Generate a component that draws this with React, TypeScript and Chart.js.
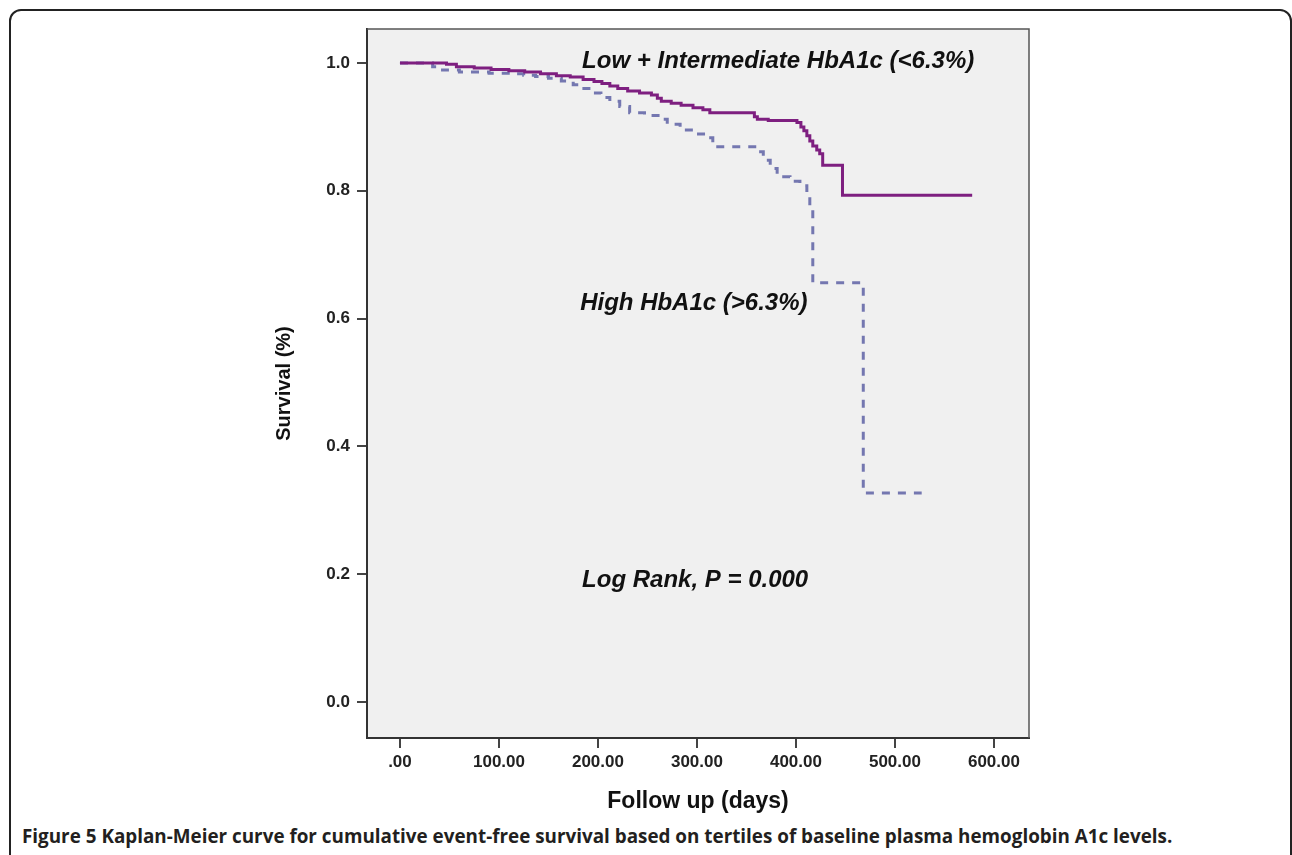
import React, { useEffect, useRef } from "react";
import { Chart, registerables } from "chart.js";

Chart.register(...registerables);

// Low + Intermediate HbA1c (<6.3%) — Kaplan-Meier steps (day, survival after event)
const lowDays = [0, 47, 57, 75, 92, 110, 126, 142, 158, 172, 185, 196, 204, 212, 220, 230, 242, 254, 260, 264, 274, 284, 296, 306, 313, 358, 361, 372, 401, 405, 408, 411, 414, 417, 421, 424, 427, 447, 578];
const lowSurvival = [1.0, 0.998, 0.994, 0.992, 0.99, 0.988, 0.986, 0.983, 0.98, 0.978, 0.974, 0.971, 0.968, 0.964, 0.96, 0.956, 0.953, 0.95, 0.945, 0.94, 0.937, 0.934, 0.93, 0.927, 0.922, 0.916, 0.912, 0.91, 0.907, 0.9, 0.894, 0.886, 0.878, 0.87, 0.864, 0.858, 0.84, 0.793, 0.793];

// High HbA1c (>6.3%)
const highDays = [0, 33, 43, 60, 90, 111, 125, 137, 150, 163, 175, 183, 193, 203, 212, 222, 232, 247, 263, 270, 283, 296, 310, 316, 361, 367, 374, 381, 394, 404, 411, 414, 417, 468, 527];
const highSurvival = [1.0, 0.994, 0.989, 0.986, 0.984, 0.983, 0.981, 0.979, 0.976, 0.972, 0.966, 0.96, 0.953, 0.946, 0.94, 0.932, 0.922, 0.918, 0.912, 0.904, 0.895, 0.889, 0.883, 0.869, 0.861, 0.848, 0.835, 0.822, 0.815, 0.808, 0.792, 0.772, 0.656, 0.327, 0.327];

const xTicks = [0, 100, 200, 300, 400, 500, 600];
const yTicks = [0, 0.2, 0.4, 0.6, 0.8, 1.0];

const annotationTexts = ["Low + Intermediate HbA1c (<6.3%)", "High HbA1c (>6.3%)", "Log Rank, P = 0.000"];
const annotationDays = [184, 182, 184];
const annotationSurvival = [1.003, 0.624, 0.191];

const caption =
  "Kaplan-Meier curve for cumulative event-free survival based on tertiles of baseline plasma hemoglobin A1c levels.";

const plotFramePlugin = {
  id: "plotFrame",
  beforeDraw(chart: any) {
    const { ctx, chartArea: a } = chart;
    ctx.save();
    ctx.fillStyle = "#f0f0f0";
    ctx.fillRect(a.left, a.top, a.right - a.left, a.bottom - a.top);
    ctx.restore();
  },
  afterDraw(chart: any) {
    const { ctx, chartArea: a } = chart;
    ctx.save();
    ctx.strokeStyle = "#555";
    ctx.lineWidth = 1.5;
    ctx.beginPath();
    ctx.moveTo(a.left, a.top);
    ctx.lineTo(a.right, a.top);
    ctx.lineTo(a.right, a.bottom);
    ctx.stroke();
    ctx.restore();
  },
  afterDatasetsDraw(chart: any) {
    const { ctx, scales } = chart;
    ctx.save();
    ctx.fillStyle = "#111";
    ctx.font = "italic bold 24px 'Liberation Sans', Arial, sans-serif";
    ctx.textAlign = "left";
    ctx.textBaseline = "middle";
    annotationTexts.forEach((t, i) => {
      ctx.fillText(t, scales.x.getPixelForValue(annotationDays[i]), scales.y.getPixelForValue(annotationSurvival[i]));
    });
    ctx.restore();
  },
};

export default function App() {
  const canvasRef = useRef<HTMLCanvasElement | null>(null);

  useEffect(() => {
    const canvas = canvasRef.current;
    if (!canvas) return;
    const chart = new Chart(canvas, {
      type: "line",
      data: {
        datasets: [
          {
            label: "Low + Intermediate HbA1c",
            data: lowDays.map((d, i) => ({ x: d, y: lowSurvival[i] })),
            borderColor: "#7e1f80",
            borderWidth: 3,
            stepped: "before",
            pointRadius: 0,
            fill: false,
          },
          {
            label: "High HbA1c",
            data: highDays.map((d, i) => ({ x: d, y: highSurvival[i] })),
            borderColor: "#7477b0",
            borderWidth: 3,
            borderDash: [8, 8],
            stepped: "before",
            pointRadius: 0,
            fill: false,
          },
        ],
      },
      options: {
        animation: false,
        responsive: false,
        devicePixelRatio: 1,
        layout: { padding: { left: 200, right: 263, top: 29, bottom: 0 } },
        plugins: { legend: { display: false }, tooltip: { enabled: false } },
        scales: {
          x: {
            type: "linear",
            min: -33.3,
            max: 635.4,
            afterFit: (s: any) => {
              s.height = 82;
            },
            afterBuildTicks: (s: any) => {
              s.ticks = xTicks.map((v) => ({ value: v }));
            },
            grid: { drawOnChartArea: false, drawTicks: true, tickLength: 10, color: "#444", lineWidth: 2 },
            border: { display: true, color: "#333", width: 2 },
            ticks: {
              padding: 4,
              color: "#222",
              font: { family: "'Liberation Sans', Arial, sans-serif", size: 17, weight: "bold" },
              callback: (v: any) => (v === 0 ? ".00" : Number(v).toFixed(2)),
              maxRotation: 0,
            },
            title: {
              display: true,
              text: "Follow up (days)",
              color: "#111",
              font: { family: "'Liberation Sans', Arial, sans-serif", size: 23, weight: "bold" },
              padding: { top: 0, bottom: 5 },
            },
          },
          y: {
            type: "linear",
            min: -0.0563,
            max: 1.0532,
            afterFit: (s: any) => {
              s.width = 167;
            },
            afterBuildTicks: (s: any) => {
              s.ticks = yTicks.map((v) => ({ value: v }));
            },
            grid: { drawOnChartArea: false, drawTicks: true, tickLength: 10, color: "#444", lineWidth: 2 },
            border: { display: true, color: "#333", width: 2 },
            ticks: {
              padding: 7,
              color: "#222",
              font: { family: "'Liberation Sans', Arial, sans-serif", size: 17, weight: "bold" },
              callback: (v: any) => Number(v).toFixed(1),
            },
            title: {
              display: true,
              text: "Survival (%)",
              color: "#111",
              font: { family: "'Liberation Sans', Arial, sans-serif", size: 20, weight: "bold" },
              padding: { top: 72, bottom: 0 },
            },
          },
        },
      },
      plugins: [plotFramePlugin],
    } as any);
    return () => chart.destroy();
  }, []);

  return (
    <div style={{ position: "absolute", left: 0, top: 0, width: 1292, height: 855, overflow: "hidden", background: "#fff" }}>
      <div
        style={{
          position: "absolute",
          left: 9,
          top: 9,
          width: 1283,
          height: 900,
          boxSizing: "border-box",
          border: "2px solid #222",
          borderRadius: 12,
        }}
      />
      <canvas
        ref={canvasRef}
        width={1292}
        height={820}
        style={{ position: "absolute", left: 0, top: 0, width: 1292, height: 820 }}
      />
      <div
        style={{
          position: "absolute",
          left: 22,
          top: 823,
          fontFamily: "'Open Sans', 'Noto Sans', sans-serif",
          fontWeight: 700,
          fontSize: 18.85,
          lineHeight: "26px",
          color: "#231f20",
          whiteSpace: "nowrap",
        }}
      >
        <span>Figure 5</span> {caption}
      </div>
    </div>
  );
}
